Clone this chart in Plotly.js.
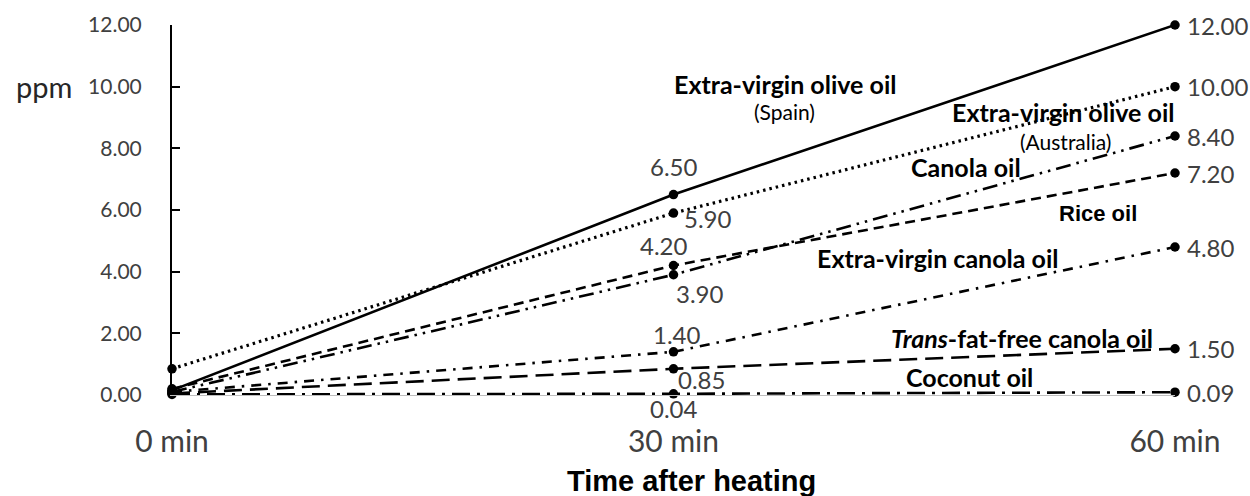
<!DOCTYPE html>
<html>
<head>
<meta charset="utf-8">
<script src="https://cdn.plot.ly/plotly-3.0.1.min.js"></script>
<style>html,body{margin:0;padding:0;background:#fff;}#chart{width:1250px;height:496px;}</style>
</head>
<body>
<div id="chart"></div>
<script>
// ---- data ----
const times = ['0 min', '30 min', '60 min'];
const oilNames = [
  'Extra-virgin olive oil (Spain)',
  'Extra-virgin olive oil (Australia)',
  'Canola oil',
  'Rice oil',
  'Extra-virgin canola oil',
  'Trans-fat-free canola oil',
  'Coconut oil'
];
const oliveSpain      = [0.15, 6.50, 12.00];
const oliveAustralia  = [0.85, 5.90, 10.00];
const canola          = [0.10, 3.90, 8.40];
const rice            = [0.20, 4.20, 7.20];
const evCanola        = [0.10, 1.40, 4.80];
const transFree       = [0.05, 0.85, 1.50];
const coconut         = [0.02, 0.04, 0.09];
const yTicks = [0, 2, 4, 6, 8, 10, 12];

const seriesValues = [oliveSpain, oliveAustralia, canola, rice, evCanola, transFree, coconut];

// ---- styles ----
const dashes = [
  'solid',
  '2.5px,4px',
  '15px,6px,2.5px,6px,2.5px,6px',
  '10px,6px',
  '10px,7px,2.5px,7px',
  '18px,8px',
  '18px,7px,3px,7px'
];
const widths = [2.6, 3.2, 2.6, 2.6, 2.6, 2.6, 2.6];
// offsets (px) of the 30-min value label relative to its marker
const midShift = [
  {x: 0, y: 28},
  {x: 34, y: -5},
  {x: 26, y: -19},
  {x: -10, y: 20},
  {x: 3, y: 17},
  {x: 28, y: -11},
  {x: 0, y: -15}
];

const traces = seriesValues.map((vals, i) => ({
  type: 'scatter',
  mode: 'lines+markers',
  x: times,
  y: vals,
  name: oilNames[i],
  line: {color: '#000000', width: widths[i], dash: dashes[i]},
  marker: {color: '#000000', size: 9.5, symbol: 'circle'},
  cliponaxis: false,
  hoverinfo: 'x+y'
}));

const numFont = {family: 'Lato, "Open Sans", sans-serif', size: 24, color: '#404040'};
const annotations = [];
seriesValues.forEach((vals, i) => {
  annotations.push({
    x: times[1], y: vals[1], xref: 'x', yref: 'y',
    text: vals[1].toFixed(2), showarrow: false,
    xshift: midShift[i].x, yshift: midShift[i].y,
    font: numFont
  });
  annotations.push({
    x: times[2], y: vals[2], xref: 'x', yref: 'y',
    text: vals[2].toFixed(2), showarrow: false,
    xanchor: 'left', xshift: 10,
    font: numFont
  });
});

const nameFont = {family: 'Lato, "Open Sans", sans-serif', size: 25, color: '#000000', weight: 700};
const subFont = {family: 'Lato, "Open Sans", sans-serif', size: 21, color: '#000000'};
const nameLabels = [
  {text: 'Extra-virgin olive oil', x: 1.222, y: 10.09, font: nameFont},
  {text: '(Spain)', x: 1.222, y: 9.18, font: subFont},
  {text: 'Extra-virgin olive oil', x: 1.777, y: 9.18, font: nameFont},
  {text: '(Australia)', x: 1.781, y: 8.21, font: subFont},
  {text: 'Canola oil', x: 1.583, y: 7.40, font: nameFont},
  {text: 'Rice oil', x: 1.846, y: 5.90, font: {family: '"Liberation Sans", Arial, sans-serif', size: 22, color: '#000', weight: 700}},
  {text: 'Extra-virgin canola oil', x: 1.527, y: 4.44, font: nameFont},
  {text: '<i>Trans</i>-fat-free canola oil', x: 1.695, y: 1.85, font: nameFont},
  {text: 'Coconut oil', x: 1.591, y: 0.58, font: nameFont}
];
nameLabels.forEach(l => annotations.push({
  x: l.x, y: l.y, xref: 'x', yref: 'y', text: l.text, showarrow: false, font: l.font
}));

annotations.push({
  text: 'ppm', xref: 'paper', yref: 'paper', x: -0.158, y: 0.834,
  xanchor: 'left', yanchor: 'middle', showarrow: false,
  font: {family: 'Lato, "Open Sans", sans-serif', size: 29, color: '#262626'}
});
// x-axis title (placed as in the reference, slightly right of centre)
annotations.push({
  text: 'Time after heating', xref: 'paper', yref: 'paper', x: 0.518, y: -0.233,
  xanchor: 'center', yanchor: 'middle', showarrow: false,
  font: {family: '"Liberation Sans", Arial, sans-serif', size: 29, color: '#000000', weight: 700}
});

const layout = {
  width: 1250, height: 496,
  margin: {l: 172, r: 75, t: 25, b: 101},
  paper_bgcolor: '#ffffff', plot_bgcolor: '#ffffff',
  showlegend: false,
  xaxis: {
    type: 'category',
    range: [0, 2],
    showgrid: false, zeroline: false,
    showline: true, linecolor: '#bfbfbf', linewidth: 1.2,
    ticks: '',
    ticklabelstandoff: 20,
    tickfont: {family: 'Lato, "Open Sans", sans-serif', size: 30, color: '#404040'}
  },
  yaxis: {
    range: [0, 12],
    tickvals: yTicks,
    tickformat: '.2f',
    showgrid: false, zeroline: false,
    showline: true, linecolor: '#000000', linewidth: 2,
    ticks: 'inside', ticklen: 8, tickwidth: 2, tickcolor: '#000000',
    ticklabelstandoff: 24,
    tickfont: {family: 'Lato, "Open Sans", sans-serif', size: 21, color: '#404040'}
  },
  annotations: annotations
};

Plotly.newPlot('chart', traces, layout, {staticPlot: true, displayModeBar: false});
</script>
</body>
</html>
